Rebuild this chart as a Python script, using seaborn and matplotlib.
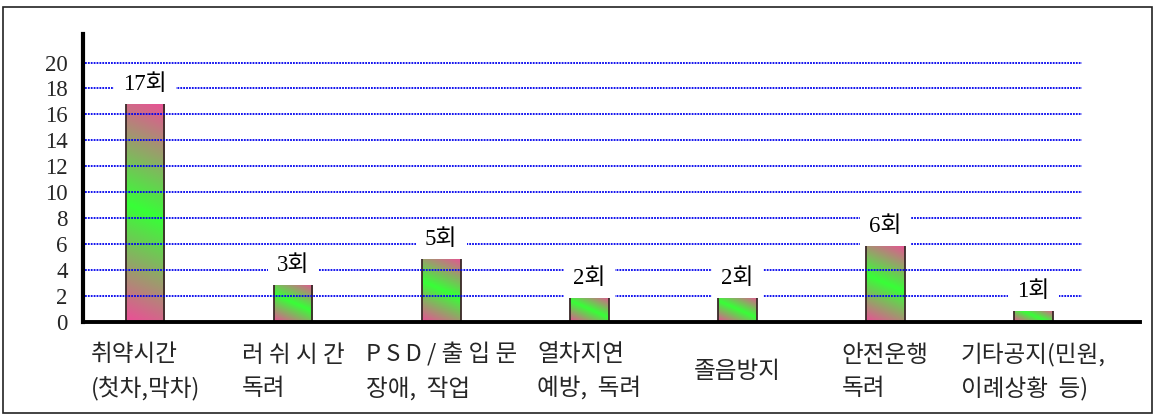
import numpy as np
import pandas as pd
import matplotlib
matplotlib.use("Agg")
import matplotlib.pyplot as plt
from matplotlib.patches import Rectangle
import seaborn as sns

categories = ["취약시간\n(첫차,막차)", "러 쉬 시 간\n독려", "P S D / 출 입 문\n장애,  작업",
              "열차지연\n예방,  독려", "졸음방지", "안전운행\n독려", "기타공지(민원,\n이례상황  등)"]
values = [17, 3, 5, 2, 2, 6, 1]
value_labels = ["17회", "3회", "5회", "2회", "2회", "6회", "1회"]
yticks = list(range(0, 21, 2))

sns.set_theme(style="white")
plt.rcParams['font.family'] = ['Noto Sans CJK KR', 'DejaVu Sans']

W, H = 1154, 415
fig = plt.figure(figsize=(W / 100, H / 100), dpi=100)
ax = fig.add_axes([83 / W, 1 - 322 / H, (1140 - 83) / W, (322 - 34) / H])

df = pd.DataFrame({"cat": categories, "val": values})
sns.barplot(data=df, x="cat", y="val", color="#888888", width=0.26, ax=ax,
            edgecolor="#3a2828", linewidth=1.3, zorder=2)

ax.set_xlim(-0.42, 6.72)
ax.set_ylim(0, 22.2)

pink = np.array([238, 76, 152]) / 255
green = np.array([55, 255, 55]) / 255
n = 240
tilt = 0.45
fig.canvas.draw()
for p in list(ax.patches):
    x0, y0 = p.get_x(), p.get_y()
    w, h = p.get_width(), p.get_height()
    (px0, py0), (px1, py1) = ax.transData.transform([(x0, y0), (x0 + w, y0 + h)])
    wp, hp = abs(px1 - px0), abs(py1 - py0)
    u = np.linspace(0, 1, n)[None, :]
    v = np.linspace(1, 0, n)[:, None]
    t = (u * wp * tilt + v * hp) / (wp * tilt + hp)
    s = 1 - np.abs(2 * t - 1)
    grad = pink[None, None, :] * (1 - s[..., None]) + green[None, None, :] * s[..., None]
    im = ax.imshow(grad, extent=[x0, x0 + w, y0, y0 + h], aspect='auto',
                   zorder=2.1, interpolation='bilinear')
    im.set_clip_path(p)
    p.set_facecolor('none')
    p.set_zorder(2.2)

ax.set_xlim(-0.42, 6.72)
ax.set_ylim(0, 22.2)

for yv in yticks[1:]:
    ax.axhline(yv, xmin=0.002, xmax=(1082 - 83) / (1140 - 83), color="#0000ee",
               linestyle=(0, (1, 0.6)), linewidth=1.3, zorder=3)

for i, (val, lab) in enumerate(zip(values, value_labels)):
    ax.annotate(lab, (i, val), xytext=(0, 5), textcoords='offset points',
                ha='center', va='bottom', fontsize=16.5, color='black',
                family=['Liberation Serif', 'Noto Sans CJK KR'], zorder=5,
                bbox=dict(boxstyle='square,pad=0.4', fc='white', ec='none'))

ax.set_yticks(yticks)
ax.set_yticklabels([str(y) for y in yticks], family=['Liberation Serif'], fontsize=16.5)
ax.tick_params(axis='y', length=0, pad=11)
ax.tick_params(axis='x', length=0, pad=36, labelsize=17)
for lbl in ax.get_xticklabels():
    lbl.set_va('center')
    lbl.set_ha('center')
    lbl.set_multialignment('left')
    lbl.set_linespacing(1.55)
    lbl.set_fontweight('medium')

ax.set_xlabel("")
ax.set_ylabel("")
for side in ["top", "right"]:
    ax.spines[side].set_visible(False)
ax.spines["left"].set_linewidth(3)
ax.spines["bottom"].set_linewidth(2.8)
ax.spines["left"].set_color("black")
ax.spines["bottom"].set_color("black")
ax.grid(False)

fig.patches.append(Rectangle((3 / W, 2 / H), (1152 - 3) / W, (413 - 7) / H,
                             transform=fig.transFigure, fill=False, ec="#222222",
                             lw=1.2))

fig.savefig("out.png", dpi=100)
